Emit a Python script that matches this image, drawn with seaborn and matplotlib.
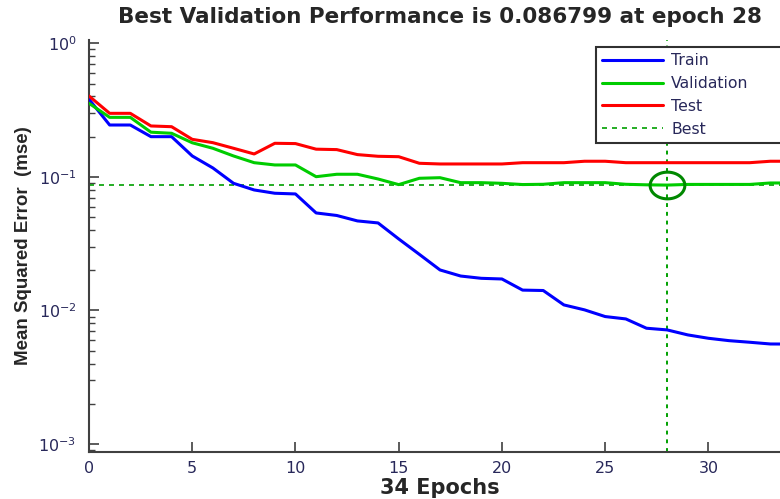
import numpy as np
import pandas as pd
import seaborn as sns
import matplotlib.pyplot as plt
from matplotlib.lines import Line2D
from matplotlib.path import Path

# Values
epochs = list(range(35))
train_mse = [0.381, 0.2445, 0.2445, 0.200, 0.200, 0.1434, 0.1166, 0.0895, 0.0798, 0.0754,
             0.0745, 0.0537, 0.0514, 0.0468, 0.0452, 0.0343, 0.0263, 0.0201, 0.0181, 0.0174,
             0.0172, 0.0142, 0.0141, 0.0110, 0.0101, 0.0090, 0.00864, 0.00736, 0.00715, 0.00656,
             0.00619, 0.00594, 0.00578, 0.00561, 0.0056]
valid_mse = [0.3556, 0.279, 0.279, 0.216, 0.212, 0.180, 0.1637, 0.1434, 0.1277, 0.1228,
             0.1228, 0.1003, 0.1046, 0.1046, 0.0964, 0.0875, 0.0976, 0.0986, 0.0905, 0.0905,
             0.0895, 0.0876, 0.0880, 0.0905, 0.0905, 0.0905, 0.0880, 0.0872, 0.086799, 0.0878,
             0.0878, 0.0878, 0.0878, 0.0900, 0.0900]
test_mse = [0.403, 0.299, 0.299, 0.2405, 0.2375, 0.191, 0.1803, 0.1637, 0.1484, 0.1784,
            0.1775, 0.1612, 0.160, 0.1468, 0.1426, 0.1416, 0.1264, 0.1249, 0.1249, 0.1249,
            0.1249, 0.1277, 0.1277, 0.1277, 0.1309, 0.1309, 0.1277, 0.1277, 0.1277, 0.1277,
            0.1277, 0.1277, 0.1277, 0.1309, 0.1309]
best_epoch = 28
best_perf = 0.086799
n_epochs = 34

df = pd.DataFrame({
    'epoch': epochs * 3,
    'mse': train_mse + valid_mse + test_mse,
    'set': ['Train'] * 35 + ['Validation'] * 35 + ['Test'] * 35,
})

sns.set_style('ticks')
plt.rcParams['font.family'] = ['DejaVu Sans']
plt.rcParams['mathtext.default'] = 'regular'

colors = {'Train': '#0000ff', 'Validation': '#00cc00', 'Test': '#ff0000'}
tick_col = '#28285a'

fig = plt.figure(figsize=(7.8, 4.99), dpi=100)
ax = fig.add_axes([89 / 780, 47.3 / 499, 702 / 780, 411.7 / 499])

sns.lineplot(data=df, x='epoch', y='mse', hue='set', palette=colors, linewidth=2.2,
             legend=False, ax=ax, zorder=3)
ax.set_yscale('log')
ax.axhline(best_perf, color='#00a000', linestyle=(0, (3, 3)), linewidth=1.2, zorder=2)
ax.axvline(best_epoch, color='#00a000', linestyle=(0, (2, 2.5)), linewidth=1.4, zorder=2)

# slightly wide ellipse marker, as in the reference
t = np.linspace(0, 2 * np.pi, 60)
ellipse = Path(np.column_stack([1.3 * np.cos(t), np.sin(t)]))
ax.plot([best_epoch], [best_perf], marker=ellipse, markersize=25, mfc='none', mec='#008800',
        mew=2.2, zorder=4)

ax.set_xlim(0, n_epochs)
ax.set_ylim(8.76e-4, 1.0585)
ax.set_xticks([0, 5, 10, 15, 20, 25, 30])
ax.set_yticks([1e-3, 1e-2, 1e-1, 1e0])
ax.set_yticklabels(['$10^{-3}$', '$10^{-2}$', '$10^{-1}$', '$10^{0}$'])

for s in ['top', 'right']:
    ax.spines[s].set_visible(False)
for s in ['left', 'bottom']:
    ax.spines[s].set_color('#404040')
    ax.spines[s].set_linewidth(1.5)
ax.tick_params(axis='both', which='major', direction='in', length=7, width=1.2,
               color='#404040', labelsize=11.5, labelcolor=tick_col)
ax.tick_params(axis='y', which='minor', direction='in', length=4, width=1.0, color='#404040')
ax.tick_params(axis='x', pad=7)
ax.tick_params(axis='y', pad=9)

ax.set_title(f'Best Validation Performance is {best_perf} at epoch {best_epoch}',
             fontsize=15.5, fontweight='bold', pad=12)
ax.set_xlabel(f'{n_epochs} Epochs', fontsize=15, fontweight='bold', labelpad=1)
ax.set_ylabel('Mean Squared Error  (mse)', fontsize=13.5, fontweight='bold', labelpad=5,
              family='Liberation Sans')

handles = [Line2D([], [], color=colors['Train'], lw=2.2),
           Line2D([], [], color=colors['Validation'], lw=2.2),
           Line2D([], [], color=colors['Test'], lw=2.2),
           Line2D([], [], color='#00a000', lw=1.2, linestyle=(0, (3, 3)))]
# legend box runs past the right edge of the picture, like the reference
leg_x0 = (596 - 89) / 702
leg = ax.legend(handles, ['Train', 'Validation', 'Test', 'Best'], loc='upper left',
                bbox_to_anchor=(leg_x0, 0.5, 0.995 - leg_x0, 0.483), mode='expand',
                fancybox=False, framealpha=1,
                edgecolor='#303030', fontsize=11.3, handlelength=3.9, handletextpad=0.5,
                labelspacing=0.5, borderpad=0.4, borderaxespad=0, labelcolor=tick_col)
leg.get_frame().set_linewidth(1.5)
leg.set_zorder(5)

fig.savefig('out.png', dpi=100)
